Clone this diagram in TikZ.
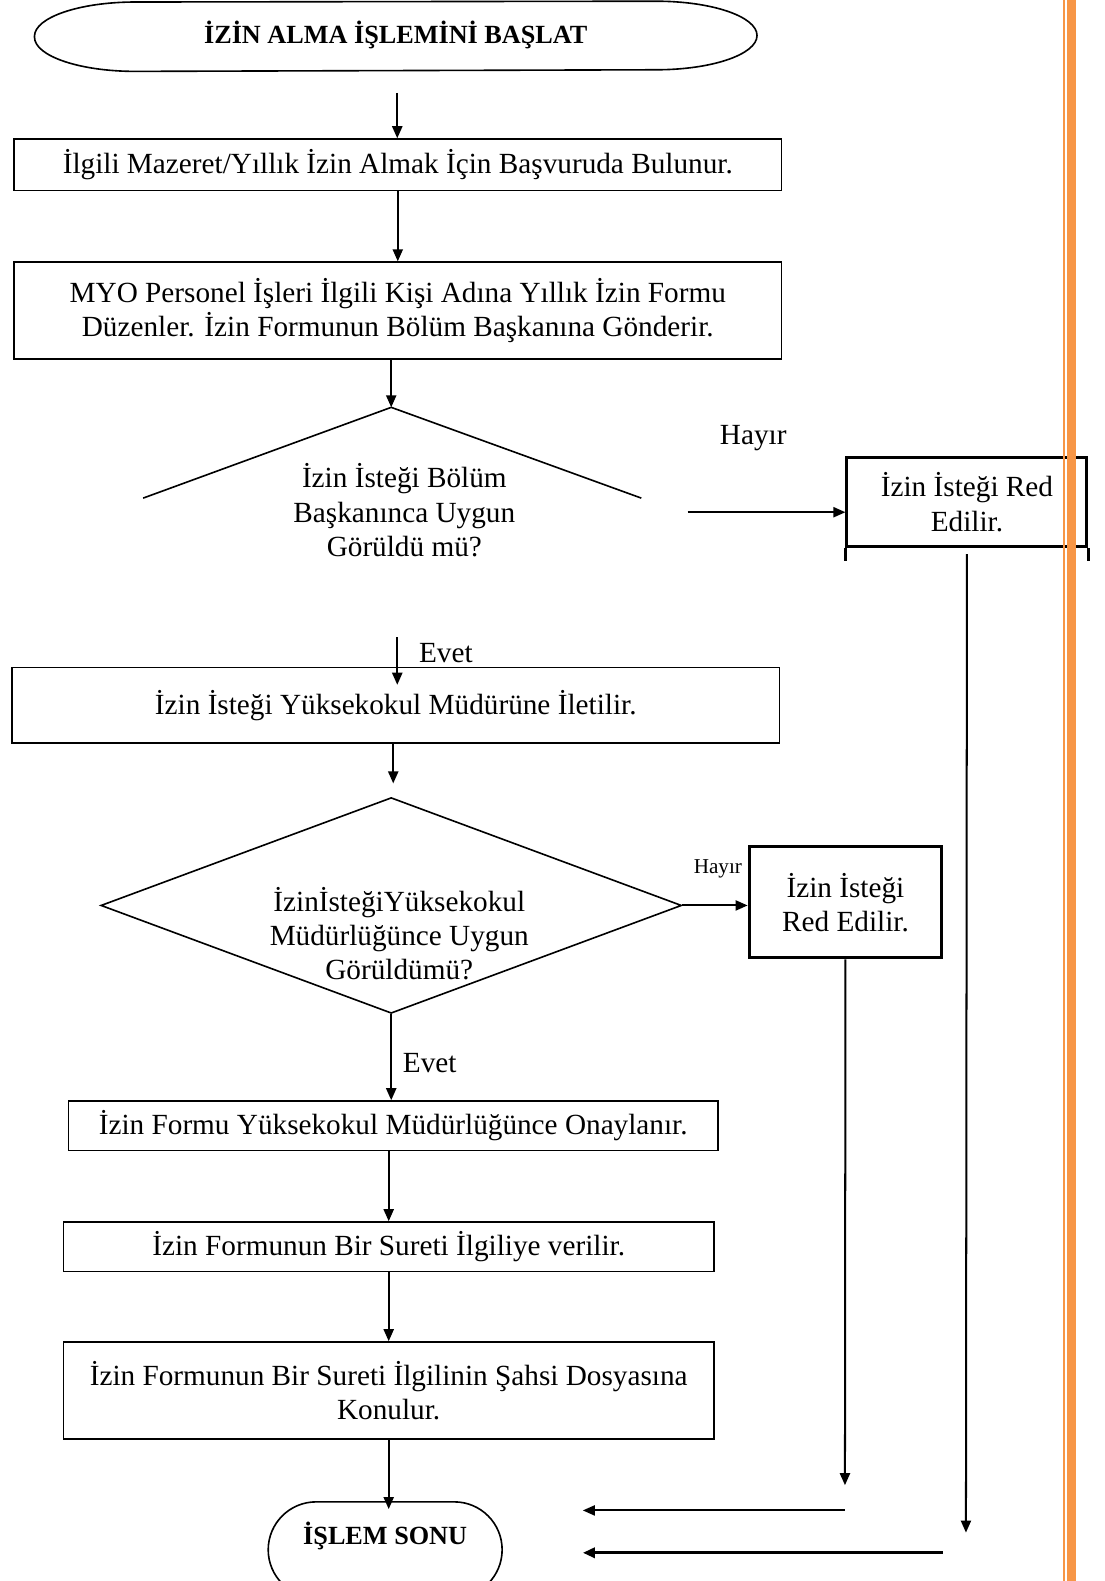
\documentclass[tikz,border=0pt]{standalone}
\usepackage{fontspec}
\setmainfont{Liberation Serif}
\usetikzlibrary{shapes.geometric, shapes.misc, arrows.meta}

\definecolor{barorange}{RGB}{247,150,70}

\tikzset{
  box/.style={draw, line width=0.8pt, inner sep=2pt, align=center},
  redbox/.style={draw, line width=1.5pt, inner sep=2pt, align=center},
  term/.style={line width=0.8pt, inner sep=2pt, font=\fontsize{13}{15}\selectfont\bfseries},
  txt/.style={align=center, inner sep=0pt},
  small/.style={font=\fontsize{10.5}{12}\selectfont},
  endarc/.style={x radius=50pt, y radius=17pt}
}

\begin{document}
\begin{tikzpicture}[x=0.5pt,y=-0.5pt,>={Triangle[length=6pt,width=5pt]},line width=1pt,
                    font=\fontsize{14.5}{17}\selectfont]
\useasboundingbox (0,0) rectangle (1095,1568);

                        \node[term, minimum width=357.5pt, minimum height=34pt, text depth=4pt] (start) at (392.5,36) {İZİN ALMA İŞLEMİNİ BAŞLAT};
                        \node[box, minimum width=380.5pt, minimum height=25.5pt] (b1)   at (394.5,163.5) {İlgili Mazeret/Yıllık İzin Almak İçin Başvuruda Bulunur.};
                        \node[box, minimum width=380.5pt, minimum height=48pt]   (b2)   at (394.5,308)   {MYO Personel İşleri İlgili Kişi Adına Yıllık İzin Formu\\Düzenler. İzin Formunun Bölüm Başkanına Gönderir.};
                        \node[txt]                                               (d1)   at (401,506)     {İzin İsteği Bölüm\\Başkanınca Uygun\\Görüldü mü?};
                        \node[redbox, minimum width=119pt, minimum height=44pt]  (red1) at (959,498)     {İzin İsteği Red\\Edilir.};
                        \node[box, minimum width=380.5pt, minimum height=37.5pt] (b3)   at (392.5,699.5) {İzin İsteği Yüksekokul Müdürüne İletilir.};
                        \node[draw, diamond, line width=0.8pt, minimum width=288pt, minimum height=107pt, inner sep=0pt] (d2) at (388,898) {};
                        \node[txt]                                               (d2t)  at (396,926)     {İzinİsteğiYüksekokul\\Müdürlüğünce Uygun\\Görüldümü?};
                        \node[redbox, minimum width=95.5pt, minimum height=55pt] (red2) at (838.5,895)   {İzin İsteği\\Red Edilir.};
                        \node[box, minimum width=322pt, minimum height=24.5pt]   (b4)   at (390,1116.5)  {İzin Formu Yüksekokul Müdürlüğünce Onaylanır.};
                        \node[box, minimum width=322.5pt, minimum height=24.5pt] (b5)   at (385.5,1236.5) {İzin Formunun Bir Sureti İlgiliye verilir.};
                        \node[box, minimum width=322.5pt, minimum height=48pt]   (b6)   at (385.5,1379)  {İzin Formunun Bir Sureti İlgilinin Şahsi Dosyasına\\Konulur.};
                        \node[term, draw, rounded rectangle, minimum width=120pt, minimum height=47.5pt,
                              label={[yshift=7pt, font=\fontsize{13}{15}\selectfont\bfseries]center:İŞLEM SONU}] (stop) at (382,1537) {};

                        % baslangic cercevesi
                        \draw[line width=0.8pt] (start.west) arc[start angle=180, end angle=90, endarc]
                              -- ([xshift=-50pt]start.north east) arc[start angle=90, end angle=-90, endarc]
                              -- ([xshift=50pt]start.south west) arc[start angle=270, end angle=180, endarc] -- cycle;

                        % kesik karar kutusu
                        \coordinate (d1l)   at (142,494);
                        \coordinate (d1top) at (388,404);
                        \coordinate (d1r)   at (636,494);
                        \draw[line width=0.8pt] (d1l) -- (d1top) -- (d1r);
                        \draw[line width=1.5pt] (red1.south west) -- ++(0,13) (red1.south east) -- ++(0,13);

                        % serbest uclar
                        \coordinate (a0) at (394,92);
                        \coordinate (h1) at (682,508);
                        \coordinate (a3) at (394,632);
                        \coordinate (a4) at (390,777);
                        \coordinate (e1) at (958,1520);
                        \coordinate (e2) at (838,1473);
                        \coordinate (r1) at (838,1498);
                        \coordinate (r2) at (935,1540);
                        \coordinate (t1) at (578,1498);
                        \coordinate (t2) at (578,1540);

                        \node at (747,434)              {Hayır};
                        \node[anchor=west] at (408,648) {Evet};
                        \node[small] at (712,862)       {Hayır};
                        \node[anchor=west] at (392,1054) {Evet};

                        \path[->] (a0)        edge (a0 |- b1.north);
                        \path[->] (b1.south)  edge (b2.north);
                        \path[->] (b2.south -| d1top) edge (d1top);
                        \path[->] (h1)        edge (h1 -| red1.west);
                        \path[->] (red1.south) edge [shorten <=3pt] (e1);
                        \path[->] (a3)        edge [shorten >=-9pt] (a3 |- b3.north);
                        \path[->] (b3.south -| a4) edge (a4);
                        \path[->] (d2.east)   edge (d2.east -| red2.west);
                        \path[->] (red2.south) edge (e2);
                        \path[->] (d2.south)  edge (b4.north -| d2.south);
                        \path[->] (b4.south -| b5.north) edge (b5.north);
                        \path[->] (b5.south)  edge (b6.north);
                        \path[->] (b6.south)  edge [shorten >=-4pt] (b6.south |- stop.north);
                        \path[->] (r1)        edge (t1);
                        \path[->] (r2)        edge [line width=1.5pt] (t2);

                        \fill[barorange] (1054.5,0) rectangle (1056.5,1568);
                        \fill[barorange] (1058.5,0) rectangle (1067.2,1568);
\end{tikzpicture}
\end{document}
